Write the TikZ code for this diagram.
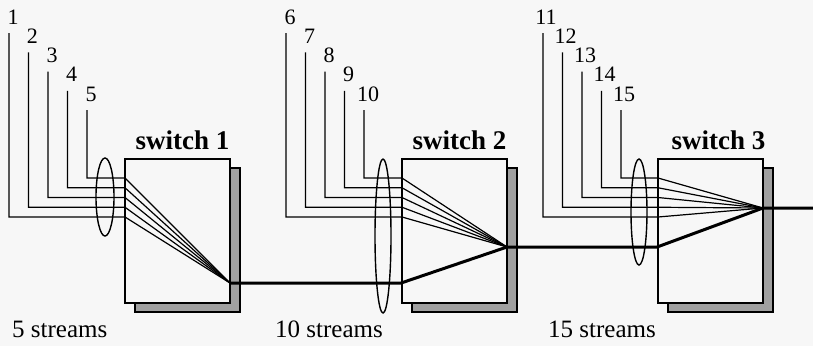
\documentclass[tikz,border=0pt]{standalone}
\usepackage{fontspec}
\setmainfont{Liberation Serif}
\usepackage{tikz}
\usetikzlibrary{shadows,shapes.geometric}
\definecolor{paper}{RGB}{247,247,247}
\definecolor{shade}{RGB}{160,160,160}

\begin{document}
\begin{tikzpicture}[x=1pt,y=-1pt,
  switchbox/.style={draw,line width=1.8pt,fill=paper,inner sep=0pt,
    minimum width=105pt,minimum height=144pt,
    drop shadow={opacity=1,shadow xshift=10pt,shadow yshift=-9pt,
      fill=shade,draw=black,line width=1.4pt}},
  stream/.style={line width=1.2pt},
  trunk/.style={line width=3pt},
  bundle/.style={draw,ellipse,line width=1.4pt,inner sep=0pt},
  numlabel/.style={anchor=base,inner sep=0pt,font=\fontsize{22}{22}\selectfont},
  swlabel/.style={anchor=base,inner sep=0pt,font=\fontsize{27}{27}\selectfont\bfseries},
  countlabel/.style={anchor=base west,inner sep=0pt,font=\fontsize{25}{25}\selectfont}]
  \fill[paper] (0,0) rectangle (813,346);
  \useasboundingbox (0,0) rectangle (813,346);
  % switch 1
  \begin{scope}
    \node[switchbox] (sw1) at (177.5,231) {};
    \node[swlabel,xshift=5pt] (sw1name) at ([yshift=9pt]sw1.north) {switch 1};
    \coordinate (hub1) at (230,283);
    \foreach \i in {1,...,5}{
      \pgfmathsetmacro\lx{9+19.5*(\i-1)}
      \pgfmathsetmacro\ty{33+19.25*(\i-1)}
      \pgfmathsetmacro\by{217-9.75*(\i-1)}
      \coordinate (top\i) at (\lx,\ty);
      \coordinate (in\i) at (125,\by);
      \node[numlabel] (num\i) at ([xshift=4pt,yshift=9pt]top\i) {\i};
      \draw[stream] (top\i) |- (in\i) -- (hub1);
    }
    \node[bundle,minimum width=18pt,minimum height=78pt] (bundle1) at (105,197) {};
    \node[countlabel] (count1) at (12,337) {5 streams};
  \end{scope}
  % switch 2
  \begin{scope}[xshift=277pt]
    \node[switchbox] (sw2) at (177.5,231) {};
    \node[swlabel,xshift=5pt] (sw2name) at ([yshift=9pt]sw2.north) {switch 2};
    \coordinate (hub2) at (230,247);
    \coordinate (feed2) at (sw2.west |- hub1);
    \foreach \i in {1,...,5}{
      \pgfmathtruncatemacro\n{\i+5}
      \pgfmathsetmacro\lx{9+19.5*(\i-1)}
      \pgfmathsetmacro\ty{33+19.25*(\i-1)}
      \pgfmathsetmacro\by{217-9.75*(\i-1)}
      \coordinate (top\n) at (\lx,\ty);
      \coordinate (in\n) at (125,\by);
      \node[numlabel] (num\n) at ([xshift=4pt,yshift=9pt]top\n) {\n};
      \draw[stream] (top\n) |- (in\n) -- (hub2);
    }
    \draw[trunk] (hub1) -- (feed2) -- (hub2);
    \node[bundle,minimum width=16pt,minimum height=154pt] (bundle2) at (106,236) {};
    \node[countlabel] (count2) at (-2,337) {10 streams};
  \end{scope}
  % switch 3
  \begin{scope}[xshift=533pt]
    \node[switchbox] (sw3) at (177.5,231) {};
    \node[swlabel,xshift=8pt] (sw3name) at ([yshift=9pt]sw3.north) {switch 3};
    \coordinate (hub3) at (230,208);
    \coordinate (feed3) at (sw3.west |- hub2);
    \coordinate (exit) at (280,208);
    \foreach \i in {1,...,5}{
      \pgfmathtruncatemacro\n{\i+10}
      \pgfmathsetmacro\lx{10+19.5*(\i-1)}
      \pgfmathsetmacro\ty{33+19.25*(\i-1)}
      \pgfmathsetmacro\by{217-9.75*(\i-1)}
      \coordinate (top\n) at (\lx,\ty);
      \coordinate (in\n) at (125,\by);
      \node[numlabel] (num\n) at ([xshift=3pt,yshift=9pt]top\n) {\n};
      \draw[stream] (top\n) |- (in\n) -- (hub3);
    }
    \draw[trunk] (hub2) -- (feed3) -- (hub3) -- (exit);
    \node[bundle,minimum width=16pt,minimum height=106pt] (bundle3) at (106,212) {};
    \node[countlabel] (count3) at (15,337) {15 streams};
  \end{scope}
\end{tikzpicture}
\end{document}
